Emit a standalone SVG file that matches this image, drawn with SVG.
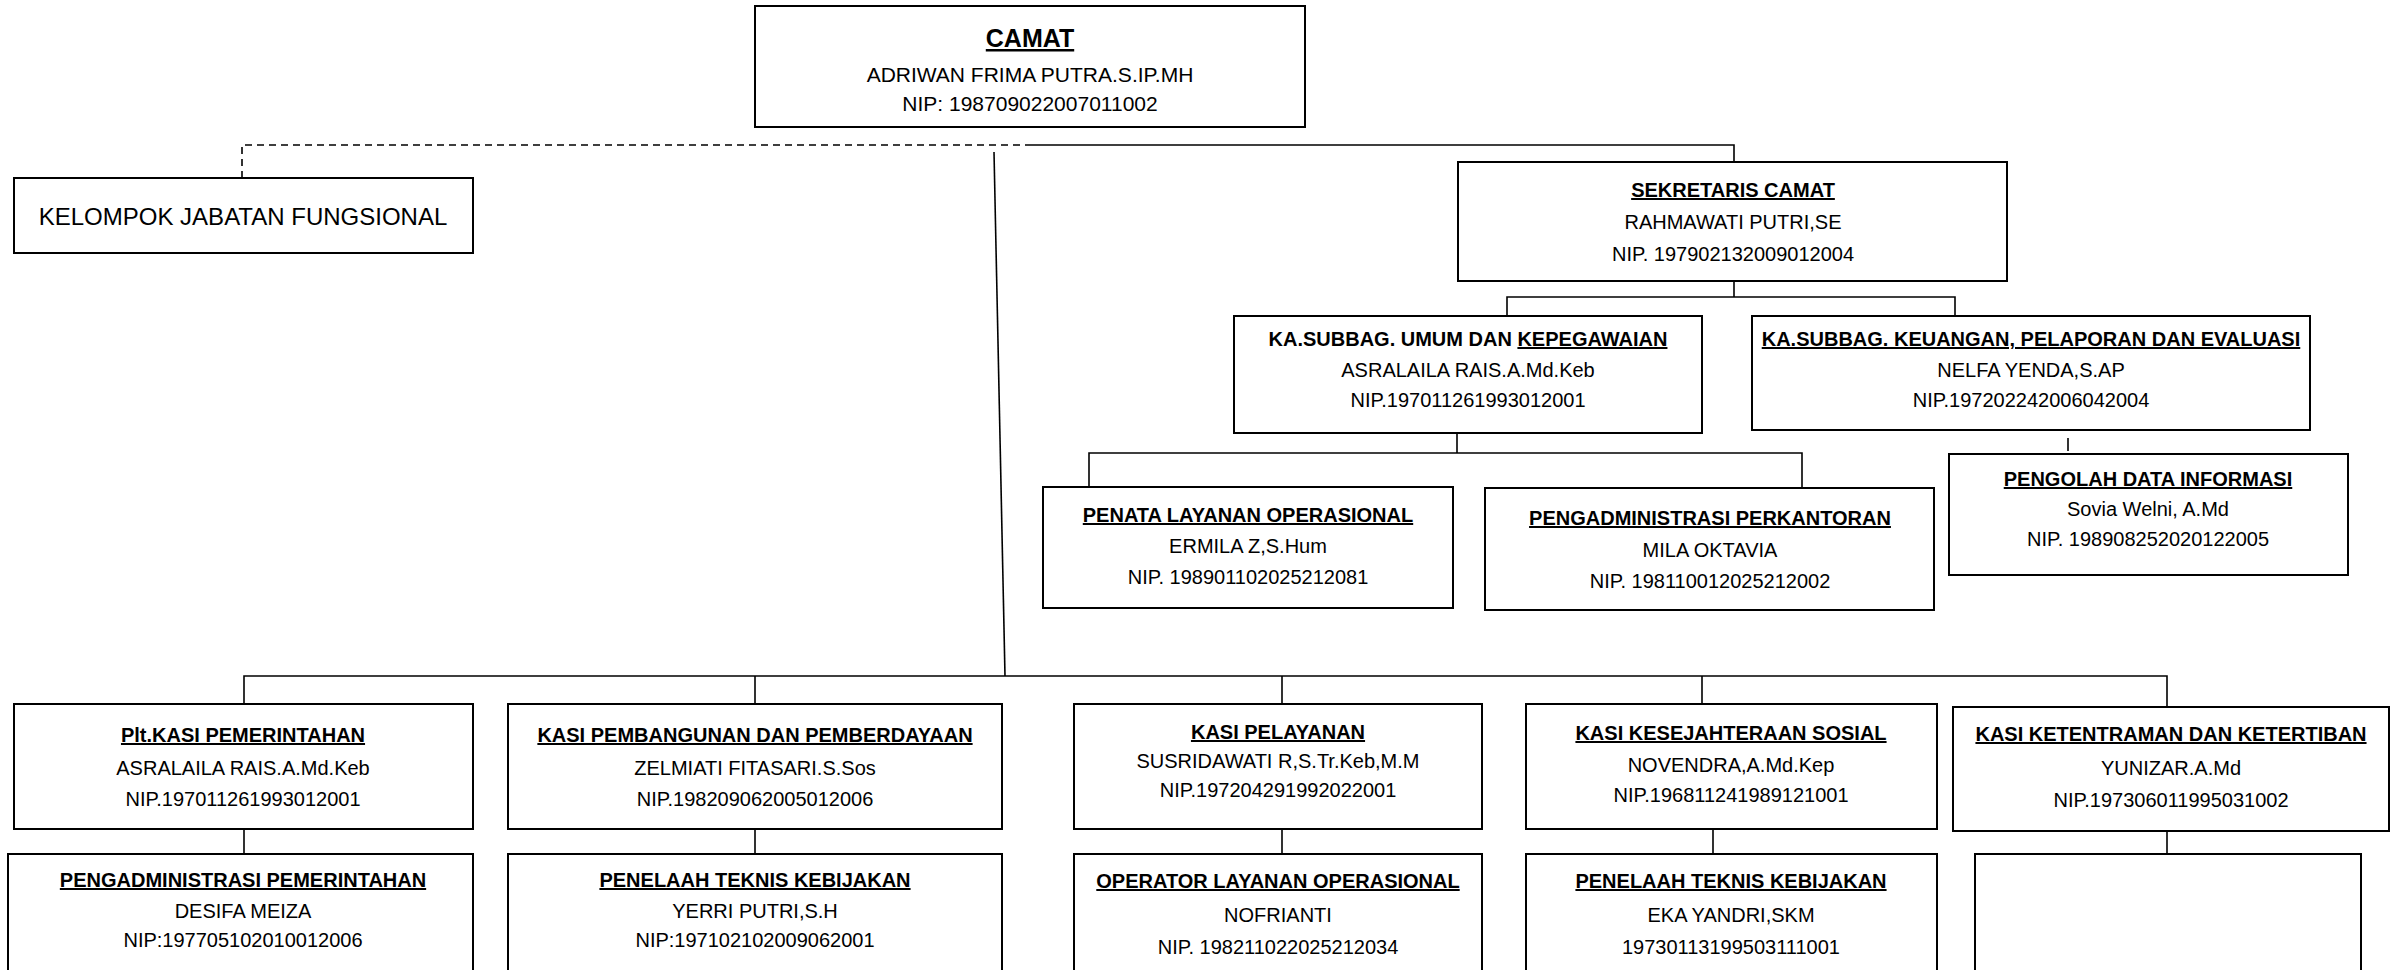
<svg xmlns="http://www.w3.org/2000/svg" width="2391" height="970" viewBox="0 0 2391 970">
<style>
.box{fill:#fff;stroke:#000;stroke-width:2}
.ln{fill:none;stroke:#000;stroke-width:1.6}
.dash{fill:none;stroke:#000;stroke-width:1.6;stroke-dasharray:7 5}
text{font-family:"Liberation Sans",Arial,sans-serif;fill:#000;text-anchor:middle}
.t{font-size:20px;font-weight:bold;text-decoration:underline}
.tb{font-size:20px;font-weight:bold}
.u{text-decoration:underline}
.n{font-size:20px}
.c{font-size:21px}
</style>
<rect width="2391" height="970" fill="#fff"/>
<g id="connectors">
<path class="dash" d="M242 178V145H1030"/>
<path class="ln" d="M1030 145H1734V162"/>
<path class="ln" d="M994 152L1005 676"/>
<path class="ln" d="M244 704V676H2167V707"/>
<path class="ln" d="M755 676V704M1282 676V704M1702 676V704"/>
<path class="ln" d="M1734 281V297M1507 316V297H1955V316"/>
<path class="ln" d="M1457 433V453M1089 487V453H1802V488"/>
<path class="ln" d="M2068 438V451"/>
<path class="ln" d="M244 829V854M755 829V854M1282 829V854M1713 829V854M2167 831V854"/>
</g>
<g id="camat"><rect class="box" x="755" y="6" width="550" height="121"/>
<text x="1030" y="47" style="font-size:25px;font-weight:bold;text-decoration:underline">CAMAT</text>
<text class="c" x="1030" y="82">ADRIWAN FRIMA PUTRA.S.IP.MH</text>
<text class="c" x="1030" y="111">NIP: 198709022007011002</text></g>
<g id="kelompok"><rect class="box" x="14" y="178" width="459" height="75"/>
<text x="243" y="225" style="font-size:24px">KELOMPOK JABATAN FUNGSIONAL</text></g>
<g id="sekretaris"><rect class="box" x="1458" y="162" width="549" height="119"/>
<text class="t" x="1733" y="197">SEKRETARIS CAMAT</text>
<text class="n" x="1733" y="229">RAHMAWATI PUTRI,SE</text>
<text class="n" x="1733" y="261">NIP. 197902132009012004</text></g>
<g id="subbag-umum"><rect class="box" x="1234" y="316" width="468" height="117"/>
<text class="tb" x="1468" y="346">KA.SUBBAG. UMUM DAN <tspan class="u">KEPEGAWAIAN</tspan></text>
<text class="n" x="1468" y="377">ASRALAILA RAIS.A.Md.Keb</text>
<text class="n" x="1468" y="407">NIP.197011261993012001</text></g>
<g id="subbag-keuangan"><rect class="box" x="1752" y="316" width="558" height="114"/>
<text class="t" x="2031" y="346">KA.SUBBAG. KEUANGAN, PELAPORAN DAN EVALUASI</text>
<text class="n" x="2031" y="377">NELFA YENDA,S.AP</text>
<text class="n" x="2031" y="407">NIP.197202242006042004</text></g>
<g id="penata"><rect class="box" x="1043" y="487" width="410" height="121"/>
<text class="t" x="1248" y="522">PENATA LAYANAN OPERASIONAL</text>
<text class="n" x="1248" y="553">ERMILA Z,S.Hum</text>
<text class="n" x="1248" y="584">NIP. 198901102025212081</text></g>
<g id="perkantoran"><rect class="box" x="1485" y="488" width="449" height="122"/>
<text class="t" x="1710" y="525">PENGADMINISTRASI PERKANTORAN</text>
<text class="n" x="1710" y="557">MILA OKTAVIA</text>
<text class="n" x="1710" y="588">NIP. 198110012025212002</text></g>
<g id="pengolah"><rect class="box" x="1949" y="454" width="399" height="121"/>
<text class="t" x="2148" y="486">PENGOLAH DATA INFORMASI</text>
<text class="n" x="2148" y="516">Sovia Welni, A.Md</text>
<text class="n" x="2148" y="546">NIP. 198908252020122005</text></g>
<g id="kasi-pemerintahan"><rect class="box" x="14" y="704" width="459" height="125"/>
<text class="t" x="243" y="742">Plt.KASI PEMERINTAHAN</text>
<text class="n" x="243" y="775">ASRALAILA RAIS.A.Md.Keb</text>
<text class="n" x="243" y="806">NIP.197011261993012001</text></g>
<g id="kasi-pembangunan"><rect class="box" x="508" y="704" width="494" height="125"/>
<text class="t" x="755" y="742">KASI PEMBANGUNAN DAN PEMBERDAYAAN</text>
<text class="n" x="755" y="775">ZELMIATI FITASARI.S.Sos</text>
<text class="n" x="755" y="806">NIP.198209062005012006</text></g>
<g id="kasi-pelayanan"><rect class="box" x="1074" y="704" width="408" height="125"/>
<text class="t" x="1278" y="739">KASI PELAYANAN</text>
<text class="n" x="1278" y="768">SUSRIDAWATI R,S.Tr.Keb,M.M</text>
<text class="n" x="1278" y="797">NIP.197204291992022001</text></g>
<g id="kasi-kesejahteraan"><rect class="box" x="1526" y="704" width="411" height="125"/>
<text class="t" x="1731" y="740">KASI KESEJAHTERAAN SOSIAL</text>
<text class="n" x="1731" y="772">NOVENDRA,A.Md.Kep</text>
<text class="n" x="1731" y="802">NIP.196811241989121001</text></g>
<g id="kasi-ketentraman"><rect class="box" x="1953" y="707" width="436" height="124"/>
<text class="t" x="2171" y="741">KASI KETENTRAMAN DAN KETERTIBAN</text>
<text class="n" x="2171" y="775">YUNIZAR.A.Md</text>
<text class="n" x="2171" y="807">NIP.197306011995031002</text></g>
<g id="pengadministrasi-pemerintahan"><rect class="box" x="8" y="854" width="465" height="130"/>
<text class="t" x="243" y="887">PENGADMINISTRASI PEMERINTAHAN</text>
<text class="n" x="243" y="918">DESIFA MEIZA</text>
<text class="n" x="243" y="947">NIP:197705102010012006</text></g>
<g id="penelaah-1"><rect class="box" x="508" y="854" width="494" height="130"/>
<text class="t" x="755" y="887">PENELAAH TEKNIS KEBIJAKAN</text>
<text class="n" x="755" y="918">YERRI PUTRI,S.H</text>
<text class="n" x="755" y="947">NIP:197102102009062001</text></g>
<g id="operator"><rect class="box" x="1074" y="854" width="408" height="130"/>
<text class="t" x="1278" y="888">OPERATOR LAYANAN OPERASIONAL</text>
<text class="n" x="1278" y="922">NOFRIANTI</text>
<text class="n" x="1278" y="954">NIP. 198211022025212034</text></g>
<g id="penelaah-2"><rect class="box" x="1526" y="854" width="411" height="130"/>
<text class="t" x="1731" y="888">PENELAAH TEKNIS KEBIJAKAN</text>
<text class="n" x="1731" y="922">EKA YANDRI,SKM</text>
<text class="n" x="1731" y="954">19730113199503111001</text></g>
<g id="empty"><rect class="box" x="1975" y="854" width="386" height="130"/></g>
</svg>
